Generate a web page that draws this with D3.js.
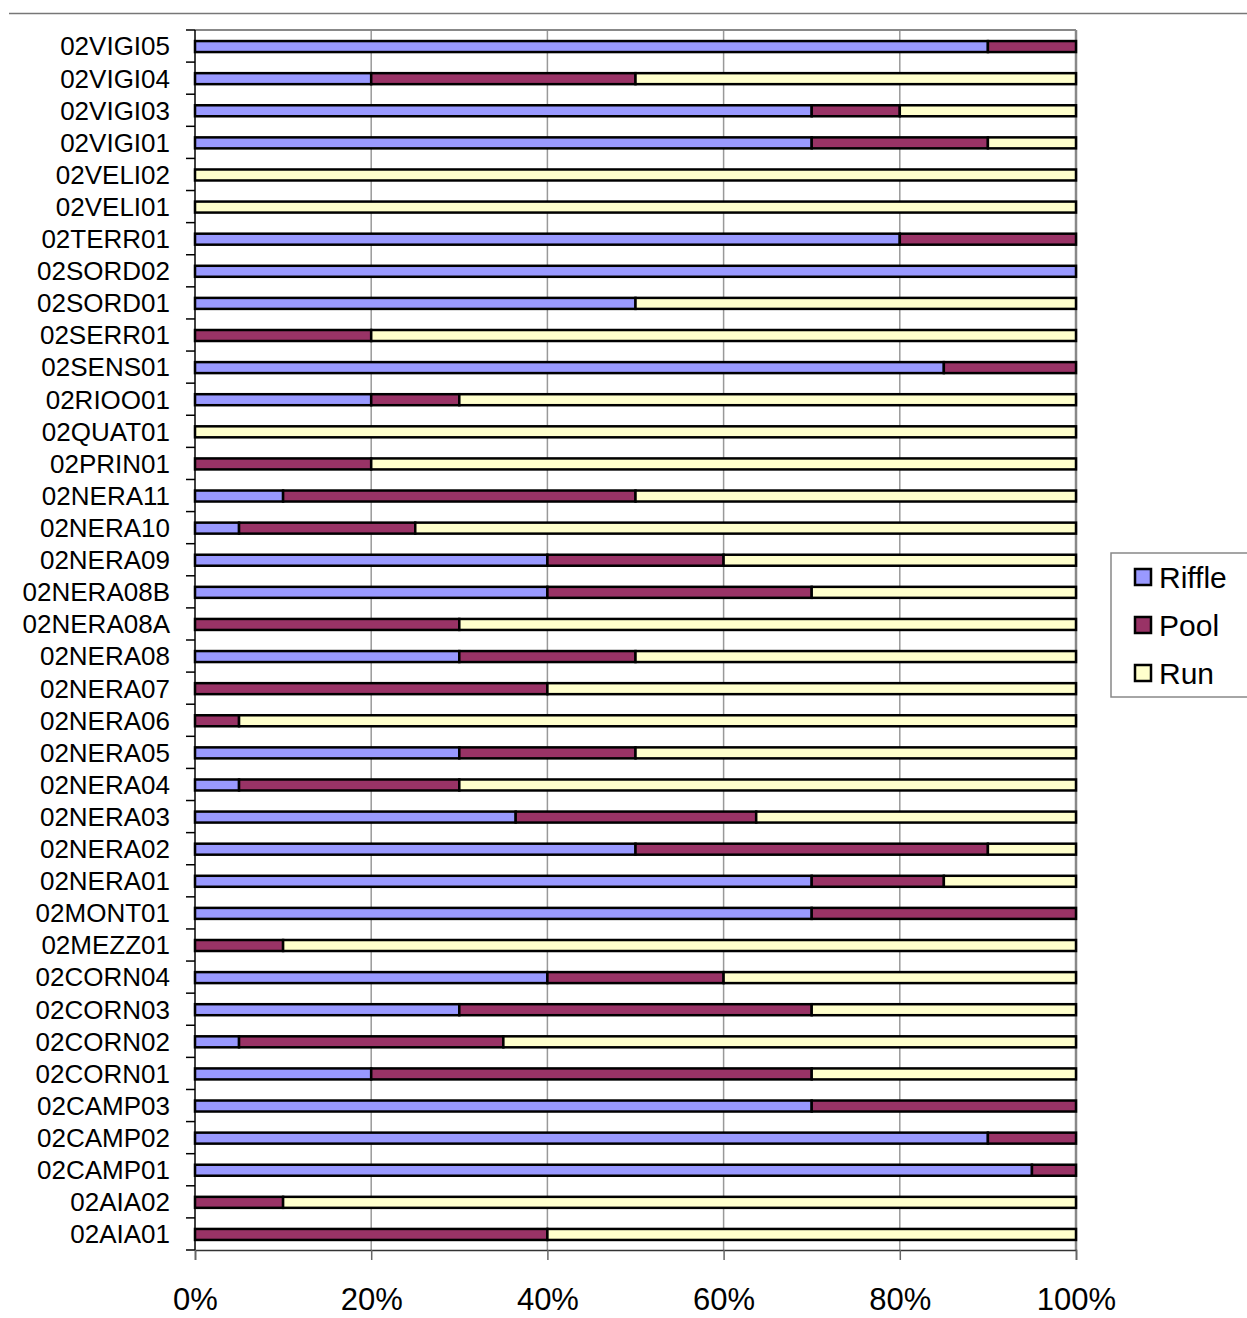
<!DOCTYPE html>
<html>
<head>
<meta charset="utf-8">
<script src="https://cdn.jsdelivr.net/npm/d3@7"></script>
<style>
  body { margin: 0; background: #fff; }
  text { font-family: "Liberation Sans", Arial, sans-serif; fill: #000; }
</style>
</head>
<body>
<div id="chart"></div>
<script>
// habitat share per site, top to bottom as in the chart
let sites = ["02VIGI05", "02VIGI04", "02VIGI03", "02VIGI01", "02VELI02", "02VELI01", "02TERR01",
  "02SORD02", "02SORD01", "02SERR01", "02SENS01", "02RIOO01", "02QUAT01", "02PRIN01",
  "02NERA11", "02NERA10", "02NERA09", "02NERA08B", "02NERA08A", "02NERA08", "02NERA07",
  "02NERA06", "02NERA05", "02NERA04", "02NERA03", "02NERA02", "02NERA01", "02MONT01",
  "02MEZZ01", "02CORN04", "02CORN03", "02CORN02", "02CORN01", "02CAMP03", "02CAMP02",
  "02CAMP01", "02AIA02", "02AIA01"];

let riffle = [90, 20, 70, 70, 0, 0, 80, 100, 50, 0, 85, 20, 0, 0, 10, 5, 40, 40, 0, 30, 0,
  0, 30, 5, 36.4, 50, 70, 70, 0, 40, 30, 5, 20, 70, 90, 95, 0, 0];
let pool = [10, 30, 10, 20, 0, 0, 20, 0, 0, 20, 15, 10, 0, 20, 40, 20, 20, 30, 30, 20, 40,
  5, 20, 25, 27.3, 40, 15, 30, 10, 20, 40, 30, 50, 30, 10, 5, 10, 40];
let run = [0, 50, 20, 10, 100, 100, 0, 0, 50, 80, 0, 70, 100, 80, 50, 75, 40, 30, 70, 50, 60,
  95, 50, 70, 36.3, 10, 15, 0, 90, 40, 30, 65, 30, 0, 0, 0, 90, 60];

let seriesNames = ["Riffle", "Pool", "Run"];
let seriesColors = ["#9999ff", "#993366", "#ffffcc"];
let xTicks = [0, 20, 40, 60, 80, 100];

let svgWidth = 1247, svgHeight = 1318;
let plotLeft = 195, plotRight = 1076, plotTop = 30, plotBottom = 1250;

let svg = d3.select("#chart").append("svg")
  .attr("width", svgWidth)
  .attr("height", svgHeight);

let rows = sites.map((s, i) => ({ site: s, Riffle: riffle[i], Pool: pool[i], Run: run[i] }));
let stacked = d3.stack().keys(seriesNames)(rows);

let xScale = d3.scaleLinear().domain([0, 100]).range([plotLeft, plotRight]);
let yScale = d3.scaleBand().domain(sites).range([plotTop, plotBottom]);
let color = d3.scaleOrdinal().domain(seriesNames).range(seriesColors);

// top rule
svg.append("line")
  .attr("x1", 9).attr("x2", svgWidth)
  .attr("y1", 13.5).attr("y2", 13.5)
  .attr("stroke", "#777").attr("stroke-width", 1.5);

// gridlines + plot frame
svg.append("g").selectAll("line")
  .data(xTicks.slice(1))
  .join("line")
  .attr("x1", d => xScale(d)).attr("x2", d => xScale(d))
  .attr("y1", plotTop).attr("y2", plotBottom)
  .attr("stroke", "#999").attr("stroke-width", 1.5);

svg.append("line")
  .attr("x1", plotLeft).attr("x2", plotRight)
  .attr("y1", plotTop).attr("y2", plotTop)
  .attr("stroke", "#888").attr("stroke-width", 2);

svg.append("line")
  .attr("x1", plotRight).attr("x2", plotRight)
  .attr("y1", plotTop).attr("y2", plotBottom)
  .attr("stroke", "#888").attr("stroke-width", 2.5);

// bars
let barH = 11;
svg.append("g").selectAll("g")
  .data(stacked)
  .join("g")
  .attr("fill", d => color(d.key))
  .selectAll("rect")
  .data(d => d.filter(p => p[1] - p[0] > 0))
  .join("rect")
  .attr("x", d => xScale(d[0]))
  .attr("width", d => xScale(d[1]) - xScale(d[0]))
  .attr("y", d => yScale(d.data.site) + yScale.bandwidth() / 2 - barH / 2 + 0.5)
  .attr("height", barH)
  .attr("stroke", "#000")
  .attr("stroke-width", 2.5);

// y axis
let yAxis = svg.append("g")
  .attr("transform", "translate(" + plotLeft + ",0)");
yAxis.append("line")
  .attr("x1", 0).attr("x2", 0)
  .attr("y1", plotTop).attr("y2", plotBottom)
  .attr("stroke", "#000").attr("stroke-width", 1.5);
let bounds = sites.map(s => yScale(s)).concat([plotBottom]);
yAxis.selectAll(".ytick")
  .data(bounds)
  .join("line")
  .attr("class", "ytick")
  .attr("x1", -9).attr("x2", 0)
  .attr("y1", d => d).attr("y2", d => d)
  .attr("stroke", "#000").attr("stroke-width", 1.5);
yAxis.selectAll(".ylab")
  .data(sites)
  .join("text")
  .attr("class", "ylab")
  .attr("x", -25)
  .attr("y", d => yScale(d) + yScale.bandwidth() / 2)
  .attr("dy", "0.36em")
  .attr("text-anchor", "end")
  .attr("font-size", 26)
  .text(d => d);

// x axis
let xAxis = d3.axisBottom(xScale)
  .tickValues(xTicks)
  .tickSize(10)
  .tickPadding(28)
  .tickFormat(d => d + "%");
let gx = svg.append("g")
  .attr("transform", "translate(0," + plotBottom + ")")
  .call(xAxis);
gx.select(".domain").attr("stroke", "#333").attr("stroke-width", 1.5);
gx.selectAll(".tick line").attr("stroke", "#666").attr("stroke-width", 1.5);
gx.selectAll(".tick text")
  .attr("font-size", 31)
  .attr("font-family", "Liberation Sans, Arial, sans-serif")
  .attr("fill", "#000");

// legend
let legend = svg.append("g");
legend.append("rect")
  .attr("x", 1111).attr("y", 553)
  .attr("width", 150).attr("height", 144)
  .attr("fill", "#fff")
  .attr("stroke", "#888").attr("stroke-width", 1.5);
let items = legend.selectAll(".item")
  .data(seriesNames)
  .join("g")
  .attr("class", "item")
  .attr("transform", (d, i) => "translate(1135," + (577 + i * 48) + ")");
items.append("rect")
  .attr("x", 0).attr("y", -8)
  .attr("width", 16).attr("height", 16)
  .attr("fill", d => color(d))
  .attr("stroke", "#000").attr("stroke-width", 2.5);
items.append("text")
  .attr("x", 24)
  .attr("dy", "0.36em")
  .attr("font-size", 30)
  .text(d => d);
</script>
</body>
</html>
